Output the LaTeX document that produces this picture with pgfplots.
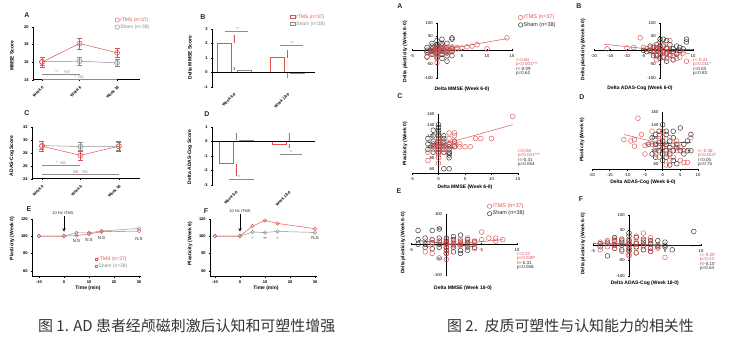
\documentclass[border=0pt]{standalone}
\usepackage{pgfplots}
\pgfplotsset{compat=1.18}
\usepackage{fontspec}
\setmainfont{Liberation Sans}
\newfontfamily\cjk{Noto Sans CJK SC}
\definecolor{rtms}{RGB}{224,82,82}
\definecolor{sham}{RGB}{140,140,140}
\definecolor{dk}{RGB}{40,40,40}
\newcommand\lab{\fontsize{5}{6}\selectfont\bfseries}
\newcommand\st{\fontsize{4.5}{5}\selectfont}
\pgfplotsset{
 base/.style={scale only axis, anchor=south west, clip=false, enlargelimits=false,
   /pgf/number format/assume math mode=true,
   tick align=outside, major tick length=1.6bp,
   every tick/.style={black, line width=0.4pt},
   legend cell align=left,
   legend style={anchor=north west, draw=none, fill=none, inner sep=0pt,
     font=\fontsize{5}{5.5}\selectfont, nodes={inner sep=0.6bp}, row sep=0.8bp,
     /tikz/every even column/.append style={column sep=1.5bp}},
 },
 f1/.style={base, axis x line=bottom, axis y line=left, axis line style={-, line width=0.45pt},
   tick label style={font=\fontsize{4}{4.5}\selectfont\bfseries}},
 f2/.style={base, axis lines=middle, axis line style={-, line width=0.45pt},
   tick label style={font=\fontsize{4.2}{4.5}\selectfont}},
 f2b/.style={base, axis x line=bottom, axis y line=middle, axis line style={-, line width=0.45pt},
   tick label style={font=\fontsize{4.2}{4.5}\selectfont}},
 R/.style={only marks, mark=o, mark size=2.4bp, rtms, mark options={line width=0.45pt}},
 K/.style={only marks, mark=o, mark size=2.4bp, dk, mark options={line width=0.45pt}},
 circleg/.style={legend image code/.code={\draw[##1, fill=white] (0bp,0bp) circle (2.2bp);}},
}
\begin{document}
\begin{tikzpicture}
\path[fill=white] (0,0) rectangle (734bp,341bp);

% ================= Figure 1 A =================
\begin{axis}[f1, at={(33bp,264bp)}, width=107bp, height=53bp,
  xmin=-0.24, xmax=2.61, ymin=14, ymax=20,
  xtick={0,1,2}, xticklabels={Week 0,Week 6,Week 18},
  xticklabel style={rotate=45, anchor=north east},
  ytick={14,16,18,20},
  ylabel={MMSE Score},
  every axis y label/.style={at={(rel axis cs:-0.196,0.45)}, anchor=center, rotate=90, font=\lab},
  circleg, legend style={at={(0.763,1.19)}}]
\addlegendimage{rtms, line width=0.45pt}
\addlegendentry{\textcolor{rtms}{rTMS (n=37)}}
\addlegendimage{sham, line width=0.45pt}
\addlegendentry{\textcolor{sham}{Sham (n=38)}}
\addplot[sham, line width=0.5pt, mark=o, mark size=2.5bp, mark options={fill=white}, forget plot,
  error bars/.cd, y dir=both, y explicit, error bar style={sham, line width=0.4pt}]
  coordinates {(0,16.05) +- (0,0.45) (1,16.1) +- (0,0.45) (2,15.9) +- (0,0.4)};
\addplot[rtms, line width=0.5pt, mark=o, mark size=2.5bp, mark options={fill=white}, forget plot,
  error bars/.cd, y dir=both, y explicit, error bar style={rtms, line width=0.4pt}]
  coordinates {(0,16.0) +- (0,0.55) (1,18.1) +- (0,0.6) (2,17.05) +- (0,0.55)};
\draw[sham, line width=0.4pt] (axis cs:0,14.68) -- (axis cs:1,14.68);
\draw[sham, line width=0.4pt] (axis cs:0,14.05) -- (axis cs:2,14.05);
\node[anchor=south, inner sep=0.3bp, font=\fontsize{4}{4}\selectfont, rtms] at (axis cs:0.4,14.68) {**};
\node[anchor=south, inner sep=0.3bp, font=\fontsize{4}{4}\selectfont, sham] at (axis cs:0.67,14.68) {NS};
\node[anchor=south, inner sep=0.3bp, font=\fontsize{4}{4}\selectfont, rtms] at (axis cs:0.89,14.05) {*};
\node[anchor=south, inner sep=0.3bp, font=\fontsize{4}{4}\selectfont, sham] at (axis cs:1.04,14.05) {NS};
\end{axis}

% ================= Figure 1 B =================
\begin{axis}[f1, at={(212bp,257bp)}, width=103bp, height=58bp,
  xmin=-0.41, xmax=1.51, ymin=-1, ymax=3,
  xtick={0,1}, xticklabels={Week 6-0,Week 18-0},
  x axis line style={draw=none}, xtick style={draw=none},
  xticklabel style={rotate=45, anchor=north east},
  ytick={-1,0,1,2,3},
  ylabel={Delta MMSE Score},
  every axis y label/.style={at={(rel axis cs:-0.214,0.5)}, anchor=center, rotate=90, font=\lab},
  legend image code/.code={\draw[#1, fill=white] (-2.5bp,-1.5bp) rectangle (2.5bp,1.5bp);},
  legend style={at={(0.757,1.26)}}]
\addlegendimage{rtms, line width=0.45pt}
\addlegendentry{\textcolor{rtms}{rTMS (n=37)}}
\addlegendimage{sham, line width=0.45pt}
\addlegendentry{\textcolor{sham}{Sham (n=38)}}
\addplot[ybar, bar width=14bp, bar shift=-10bp, draw=rtms, fill=white, line width=0.5pt, forget plot,
  error bars/.cd, y dir=plus, y explicit, error mark=none, error bar style={rtms, line width=0.4pt}]
  coordinates {(0,2.0) +- (0,0.6) (1,1.0) +- (0,0.5)};
\addplot[ybar, bar width=14bp, bar shift=10bp, draw=sham, fill=white, line width=0.5pt, forget plot,
  error bars/.cd, y dir=plus, y explicit, error mark=none, error bar style={sham, line width=0.4pt}]
  coordinates {(0,0.15) +- (0,0.2)};
\addplot[ybar, bar width=14bp, bar shift=10bp, draw=sham, fill=white, line width=0.5pt, forget plot,
  error bars/.cd, y dir=minus, y explicit, error mark=none, error bar style={sham, line width=0.4pt}]
  coordinates {(1,-0.05) +- (0,0.35)};
\draw[line width=0.45pt] (axis cs:-0.41,0) -- (axis cs:1.51,0);
\draw[sham, line width=0.4pt] (axis cs:-0.17,2.84) -- (axis cs:0.26,2.84);
\draw[sham, line width=0.4pt] (axis cs:0.86,1.88) -- (axis cs:1.29,1.88);
\node[anchor=south, inner sep=0.3bp, font=\fontsize{4}{4}\selectfont, rtms] at (axis cs:0.07,2.84) {**};
\node[anchor=south, inner sep=0.3bp, font=\fontsize{4}{4}\selectfont, rtms] at (axis cs:1.08,1.88) {**};
\end{axis}

% ================= Figure 1 C =================
\begin{axis}[f1, at={(32bp,165bp)}, width=108bp, height=52bp,
  xmin=-0.26, xmax=2.55, ymin=24, ymax=32,
  xtick={0,1,2}, xticklabels={Week 0,Week 6,Week 18},
  xticklabel style={rotate=45, anchor=north east},
  ytick={24,26,28,30,32},
  ylabel={ADAS-Cog Score},
  every axis y label/.style={at={(rel axis cs:-0.185,0.44)}, anchor=center, rotate=90, font=\lab}]
\addplot[sham, line width=0.5pt, mark=o, mark size=2.5bp, mark options={fill=white},
  error bars/.cd, y dir=both, y explicit, error bar style={sham, line width=0.4pt}]
  coordinates {(0,29.1) +- (0,0.6) (1,28.95) +- (0,0.6) (2,29.0) +- (0,0.6)};
\addplot[rtms, line width=0.5pt, mark=o, mark size=2.5bp, mark options={fill=white},
  error bars/.cd, y dir=both, y explicit, error bar style={rtms, line width=0.4pt}]
  coordinates {(0,29.0) +- (0,0.7) (1,27.6) +- (0,0.7) (2,29.0) +- (0,0.7)};
\draw[sham, line width=0.4pt] (axis cs:0,26.05) -- (axis cs:1,26.05);
\draw[sham, line width=0.4pt] (axis cs:0,24.77) -- (axis cs:2,24.77);
\node[anchor=south, inner sep=0.3bp, font=\fontsize{4}{4}\selectfont, rtms] at (axis cs:0.39,26.05) {*};
\node[anchor=south, inner sep=0.3bp, font=\fontsize{4}{4}\selectfont, sham] at (axis cs:0.55,26.05) {NS};
\node[anchor=south, inner sep=0.3bp, font=\fontsize{4}{4}\selectfont, rtms] at (axis cs:0.88,24.77) {NS};
\node[anchor=south, inner sep=0.3bp, font=\fontsize{4}{4}\selectfont, sham] at (axis cs:1.12,24.77) {NS};
\end{axis}

% ================= Figure 1 D =================
\begin{axis}[f1, at={(212bp,159bp)}, width=103bp, height=58bp,
  xmin=-0.45, xmax=1.49, ymin=-3, ymax=1,
  xtick={0,1}, xticklabels={Week 6-0,Week 18-0},
  x axis line style={draw=none}, xtick style={draw=none},
  xticklabel style={rotate=45, anchor=north east},
  ytick={-3,-2,-1,0,1},
  ylabel={Delta ADAS-Cog Score},
  every axis y label/.style={at={(rel axis cs:-0.214,0.48)}, anchor=center, rotate=90, font=\lab}]
\addplot[ybar, bar width=14bp, bar shift=-10bp, draw=rtms, fill=white, line width=0.5pt,
  error bars/.cd, y dir=minus, y explicit, error mark=none, error bar style={rtms, line width=0.4pt}]
  coordinates {(0,-1.55) +- (0,0.85) (1,-0.2) +- (0,0.3)};
\addplot[ybar, bar width=14bp, bar shift=10bp, draw=sham, fill=white, line width=0.5pt,
  error bars/.cd, y dir=plus, y explicit, error mark=none, error bar style={sham, line width=0.4pt}]
  coordinates {(0,0.05) +- (0,0.55) (1,0.0) +- (0,0.6)};
\draw[line width=0.45pt] (axis cs:-0.45,0) -- (axis cs:1.49,0);
\draw[sham, line width=0.4pt] (axis cs:-0.13,-2.6) -- (axis cs:0.34,-2.6);
\draw[sham, line width=0.4pt] (axis cs:0.83,-0.9) -- (axis cs:1.25,-0.9);
\node[anchor=south, inner sep=0.3bp, font=\fontsize{4}{4}\selectfont, rtms] at (axis cs:0.06,-2.6) {**};
\node[anchor=south, inner sep=0.3bp, font=\fontsize{4}{4}\selectfont, rtms] at (axis cs:1.04,-0.9) {**};
\end{axis}

% ================= Figure 1 E =================
\begin{axis}[f1, at={(32bp,67bp)}, width=109bp, height=58bp,
  xmin=-12.8, xmax=30.8, ymin=53.1, ymax=120,
  xtick={-10,0,10,20,30}, ytick={60,80,100,120},
  xlabel={Time (min)}, ylabel={Plasticity (Week 0)},
  every axis x label/.style={at={(rel axis cs:0.514,-0.19)}, anchor=center, font=\lab},
  every axis y label/.style={at={(rel axis cs:-0.183,0.66)}, anchor=center, rotate=90, font=\lab},
  legend image code/.code={\draw[#1, fill=white] (-1.3bp,-1.3bp) rectangle (1.3bp,1.3bp);},
  legend style={at={(0.575,0.36)}}]
\addlegendimage{rtms, line width=0.4pt}
\addlegendentry{\textcolor{rtms}{rTMS (n=37)}}
\addlegendimage{sham, line width=0.4pt}
\addlegendentry{\textcolor{sham}{Sham (n=38)}}
\addplot[sham, line width=0.45pt, mark=o, mark size=1.8bp, mark options={fill=white}, forget plot]
  coordinates {(-10,100) (0,100) (5,103.8) (10,103.8) (15,105.8) (30,108.8)};
\addplot[rtms, line width=0.45pt, mark=o, mark size=1.8bp, mark options={fill=white}, forget plot]
  coordinates {(-10,100) (0,100) (5,100.5) (10,102.5) (15,105) (30,105.8)};
\node[font=\fontsize{4.5}{5}\selectfont, dk] at (axis cs:5,94.6) {N.S};
\node[font=\fontsize{4.5}{5}\selectfont, dk] at (axis cs:10,95.8) {N.S};
\node[font=\fontsize{4.5}{5}\selectfont, dk] at (axis cs:15,98) {N.S};
\node[font=\fontsize{4.5}{5}\selectfont, dk] at (axis cs:30,97) {N.S};
\end{axis}

% ================= Figure 1 F =================
\begin{axis}[f1, at={(210bp,67bp)}, width=107bp, height=58bp,
  xmin=-12, xmax=30.8, ymin=53.1, ymax=120,
  xtick={-10,0,10,20,30}, ytick={60,80,100,120},
  xlabel={Time (min)}, ylabel={Plasticity (Week 6)},
  every axis x label/.style={at={(rel axis cs:0.523,-0.19)}, anchor=center, font=\lab},
  every axis y label/.style={at={(rel axis cs:-0.187,0.57)}, anchor=center, rotate=90, font=\lab}]
\addplot[sham, line width=0.45pt, mark=o, mark size=1.8bp, mark options={fill=white}]
  coordinates {(-10,100) (0,100) (5,104.6) (10,104.2) (15,105.3) (30,104.2)};
\addplot[rtms, line width=0.45pt, mark=o, mark size=1.8bp, mark options={fill=white}]
  coordinates {(-10,100) (0,100) (5,111.5) (10,118) (15,114.6) (30,108.5)};
\node[font=\fontsize{4.5}{5}\selectfont, dk] at (axis cs:5,96.5) {*};
\node[font=\fontsize{4.5}{5}\selectfont, dk] at (axis cs:10,96.5) {**};
\node[font=\fontsize{4.5}{5}\selectfont, dk] at (axis cs:15,96.5) {*};
\node[font=\fontsize{4.5}{5}\selectfont, dk] at (axis cs:30,97.5) {N.S};
\end{axis}

% ================= Figure 2 A =================
\begin{axis}[f2, at={(412bp,266bp)}, width=100bp, height=55bp,
  xmin=-5, xmax=15, ymin=-100, ymax=100,
  xtick={-5,5,10,15}, ytick={-100,-50,50,100},
  xlabel={Delta MMSE (Week 6-0)}, ylabel={Delta plasticity (Week 6-0)},
  every axis x label/.style={at={(rel axis cs:0.5,-0.2)}, anchor=center, font=\lab},
  every axis y label/.style={at={(rel axis cs:-0.07,0.47)}, anchor=center, rotate=90, font=\lab},
  circleg, legend style={at={(1.06,1.16)}, font=\fontsize{5.5}{6}\selectfont}]
\addlegendimage{rtms, line width=0.45pt}
\addlegendentry{\textcolor{rtms}{rTMS (n=37)}}
\addlegendimage{dk, line width=0.45pt}
\addlegendentry{\textcolor{dk}{Sham (n=38)}}
\addplot[K, forget plot] coordinates {(-2,0) (-2,10) (-2,-8) (-1,15) (-1,-5) (-1,5) (-1,25) (0,0) (0,10) (0,-10) (0,20) (0,-25) (0,35) (0,5) (1,-15) (1,5) (1,15) (1,-5) (1,40) (1,-30) (2,0) (2,10) (2,-10) (2,-40) (2,25) (3,5) (3,40) (3,-5) (3,-20) (-1,-15) (0,-5) (1,0) (2,-20) (3,45) (-2,-25) (0,15) (1,25) (-1,0)};
\addplot[R, forget plot] coordinates {(-2,-23) (-2,-5) (-1,-10) (-1,5) (-1,-2) (0,-45) (0,-30) (0,-20) (0,-10) (0,-5) (0,0) (0,5) (0,10) (0,-15) (1,-5) (1,0) (1,8) (1,-12) (1,3) (2,-8) (2,2) (2,10) (2,-3) (2,5) (3,0) (3,8) (3,-5) (3,12) (4,5) (4,10) (5,8) (6,12) (7,15) (8,20) (10,5) (14,45) (1,20)};
\addplot[rtms, line width=0.5pt, no marks, forget plot] coordinates {(-2,-8) (14,42)};
\addplot[dk, line width=0.5pt, no marks, forget plot] coordinates {(-2,2) (3,-1)};
\end{axis}

% ================= Figure 2 B =================
\begin{axis}[f2, at={(594bp,266bp)}, width=99bp, height=55bp,
  xmin=-20, xmax=10, ymin=-100, ymax=100,
  xtick={-20,-15,-10,-5,5,10}, ytick={-100,-50,50,100},
  xlabel={Delta ADAS-Cog (Week 6-0)}, ylabel={Delta plasticity (Week 6-0)},
  every axis x label/.style={at={(rel axis cs:0.465,-0.2)}, anchor=center, font=\lab},
  every axis y label/.style={at={(rel axis cs:-0.11,0.51)}, anchor=center, rotate=90, font=\lab}]
\addplot[K] coordinates {(-3,0) (-2,10) (-2,-5) (-1,20) (-1,0) (-1,-20) (0,30) (0,5) (0,-10) (0,40) (1,-5) (1,15) (1,-25) (2,5) (2,35) (2,-10) (3,0) (3,20) (3,-20) (4,5) (4,-5) (5,15) (5,-15) (6,0) (6,10) (8,40) (8,30) (-4,-5) (-3,15) (-5,0) (7,5) (0,-30) (1,40) (-2,-20) (4,-35) (2,-40) (-1,10) (0,15)};
\addplot[R] coordinates {(-16,5) (-10,8) (-8,10) (-5,10) (-4,5) (-3,8) (-3,-5) (-2,15) (-2,0) (-2,-10) (-1,5) (-1,20) (-1,-15) (0,10) (0,-5) (0,-20) (1,0) (1,-10) (1,20) (2,-5) (2,-30) (2,10) (3,-15) (3,0) (4,-20) (4,-35) (5,-10) (5,-30) (6,-5) (6,-25) (7,-10) (8,-40) (-6,45) (3,35) (-1,-35) (0,0) (2,-15)};
\addplot[rtms, line width=0.5pt, no marks] coordinates {(-17,22) (9,-12)};
\addplot[dk, line width=0.5pt, no marks] coordinates {(-5,2) (10,3)};
\end{axis}

% ================= Figure 2 C =================
\begin{axis}[f2b, at={(412bp,170bp)}, width=106bp, height=60bp,
  xmin=-5, xmax=15, ymin=51, ymax=160,
  xtick={-5,0,5,10,15}, ytick={60,80,100,120,140,160},
  xlabel={Delta MMSE (Week 6-0)}, ylabel={Plasticity (Week 0)},
  every axis x label/.style={at={(rel axis cs:0.5,-0.217)}, anchor=center, font=\lab},
  every axis y label/.style={at={(rel axis cs:-0.066,0.5)}, anchor=center, rotate=90, font=\lab}]
\addplot[K] coordinates {(-2,105) (-2,115) (-1,120) (-1,100) (-1,110) (-1,90) (0,140) (0,130) (0,120) (0,100) (0,95) (0,110) (0,105) (1,100) (1,105) (1,90) (1,115) (2,85) (2,90) (2,95) (2,80) (2,60) (1,60) (0,125) (-1,130) (1,120) (2,100) (3,100) (-2,95) (0,115) (1,110) (2,105) (-1,105) (0,90) (1,95) (3,110) (2,88) (0,135)};
\addplot[R] coordinates {(-2,90) (-2,75) (-1,100) (-1,110) (0,70) (0,80) (0,90) (0,100) (0,105) (0,115) (0,95) (0,85) (1,105) (1,95) (1,110) (1,90) (2,125) (2,100) (2,105) (2,95) (3,120) (3,125) (3,100) (3,110) (4,105) (4,100) (5,100) (6,100) (7,115) (8,115) (10,115) (14,155) (1,100) (0,110) (2,115) (-1,95) (3,105)};
\addplot[rtms, line width=0.5pt, no marks] coordinates {(-2,97) (14,140)};
\addplot[dk, line width=0.5pt, no marks] coordinates {(-2,108) (3,98)};
\end{axis}

% ================= Figure 2 D =================
\begin{axis}[f2b, at={(592bp,174bp)}, width=106bp, height=58bp,
  xmin=-20, xmax=10, ymin=70.8, ymax=160,
  xtick={-20,-15,-10,-5,0,5,10}, ytick={80,100,120,140,160},
  xlabel={Delta ADAS-Cog (Week 6-0)}, ylabel={Plasticity (Week 6)},
  every axis x label/.style={at={(rel axis cs:0.48,-0.224)}, anchor=center, font=\lab},
  every axis y label/.style={at={(rel axis cs:-0.094,0.51)}, anchor=center, rotate=90, font=\lab}]
\addplot[K] coordinates {(-4,110) (-3,120) (-2,110) (-2,125) (-1,130) (-1,100) (-1,112) (0,140) (0,95) (0,105) (0,115) (1,125) (1,110) (1,100) (1,130) (2,105) (2,115) (2,95) (3,100) (3,120) (3,85) (4,110) (4,105) (5,135) (5,100) (6,95) (6,110) (7,100) (8,125) (8,100) (-3,95) (-2,90) (0,85) (1,90) (2,78) (3,130) (4,80) (7,115)};
\addplot[R] coordinates {(-11,117) (-9,115) (-8,117) (-8,107) (-7,150) (-6,125) (-5,108) (-5,95) (-4,110) (-3,110) (-3,130) (-2,105) (-2,100) (-2,95) (-1,115) (-1,90) (-1,105) (0,130) (0,100) (0,110) (1,78) (1,95) (2,120) (2,100) (2,85) (3,110) (3,90) (4,115) (4,100) (5,105) (5,85) (6,82) (6,100) (7,82) (8,120) (-1,125) (0,120)};
\addplot[rtms, line width=0.5pt, no marks] coordinates {(-11,125) (8,100)};
\addplot[dk, line width=0.5pt, no marks] coordinates {(-5,110) (8,113)};
\end{axis}

% ================= Figure 2 E =================
\begin{axis}[f2, at={(411bp,69bp)}, width=106bp, height=61bp,
  xmin=-5, xmax=10, ymin=-100, ymax=100,
  xtick={-5,5,10}, ytick={-100,-50,50,100},
  xlabel={Delta MMSE (Week 18-0)}, ylabel={Delta plasticity (Week 6-0)},
  every axis x label/.style={at={(rel axis cs:0.49,-0.213)}, anchor=center, font=\lab},
  every axis y label/.style={at={(rel axis cs:-0.075,0.52)}, anchor=center, rotate=90, font=\lab},
  circleg, legend style={at={(0.717,1.18)}, font=\fontsize{5.5}{6}\selectfont}]
\addlegendimage{rtms, line width=0.45pt}
\addlegendentry{\textcolor{rtms}{rTMS (n=37)}}
\addlegendimage{dk, line width=0.45pt}
\addlegendentry{\textcolor{dk}{Sham (n=38)}}
\addplot[K, forget plot] coordinates {(-4,15) (-4,45) (-3,20) (-3,0) (-3,-10) (-2,15) (-2,45) (-2,5) (-1,50) (-1,20) (-1,-10) (-1,0) (0,10) (0,-10) (0,-20) (0,5) (0,20) (1,25) (1,-10) (1,0) (1,-25) (2,30) (2,10) (2,-20) (2,-30) (3,15) (3,-20) (3,-5) (4,10) (4,-10) (-2,-15) (0,-30) (1,15) (-1,10) (2,0) (0,0) (3,5) (-4,0)};
\addplot[R, forget plot] coordinates {(-3,10) (-3,-25) (-2,5) (-2,-30) (-1,-45) (-1,0) (-1,10) (0,-10) (0,-20) (0,5) (0,-30) (0,15) (0,-50) (1,0) (1,10) (1,-10) (1,5) (2,5) (2,-5) (2,15) (3,10) (3,0) (3,20) (4,10) (4,5) (5,15) (5,40) (6,20) (7,10) (7,20) (8,15) (-2,15) (0,0) (1,-5) (2,0) (3,-10) (4,-15)};
\addplot[rtms, line width=0.5pt, no marks, forget plot] coordinates {(-3,-8) (8,15)};
\addplot[dk, line width=0.5pt, no marks, forget plot] coordinates {(-4,12) (4,-8)};
\end{axis}

% ================= Figure 2 F =================
\begin{axis}[f2, at={(593bp,68bp)}, width=108bp, height=61bp,
  xmin=-5, xmax=10, ymin=-100, ymax=100,
  xtick={-5,5,10}, ytick={-100,-50,50,100},
  xlabel={Delta ADAS-Cog (Week 18-0)}, ylabel={Delta plasticity (Week 6-0)},
  every axis x label/.style={at={(rel axis cs:0.48,-0.115)}, anchor=center, font=\lab},
  every axis y label/.style={at={(rel axis cs:-0.093,0.52)}, anchor=center, rotate=90, font=\lab}]
\addplot[K] coordinates {(-4,5) (-3,10) (-3,-35) (-2,25) (-2,0) (-2,-10) (-1,20) (-1,0) (-1,10) (0,40) (0,30) (0,5) (0,-10) (0,-20) (1,25) (1,5) (1,-5) (2,20) (2,0) (2,-15) (3,-10) (3,5) (3,-20) (4,15) (4,-5) (5,10) (6,-15) (9,45) (5,-5) (-4,-5) (-1,-15) (0,15) (1,-25) (2,10) (3,15) (4,0) (-2,15) (5,0)};
\addplot[R] coordinates {(-4,10) (-4,-15) (-3,5) (-3,15) (-2,0) (-2,10) (-2,-10) (-1,15) (-1,0) (-1,-20) (0,10) (0,-5) (0,-15) (0,-30) (0,20) (1,-10) (1,5) (1,-25) (1,30) (2,15) (2,-15) (2,40) (2,-5) (3,10) (3,-20) (3,25) (4,0) (4,-10) (5,-40) (-1,5) (0,0) (1,10) (-3,-5) (2,0) (3,-10) (0,-35) (-2,20)};
\addplot[rtms, line width=0.5pt, no marks] coordinates {(-4,8) (5,-2)};
\addplot[dk, line width=0.5pt, no marks] coordinates {(-5,5) (9,-2)};
\end{axis}

% ================= text in pixel coordinates =================
\begin{scope}[x=1bp, y=-1bp, yshift=341bp]
\foreach \l/\x/\y in {A/27/12, B/203/14, C/27/110, D/207/111, E/29/206, F/206/208,
                      A/400/3, B/579/3, C/400/93, D/582/94, E/399/188, F/581/196}
  \node[font=\fontsize{7}{7}\selectfont\bfseries, dk] at (\x,\y) {\l};
% arrows 10 Hz rTMS
\node[font=\fontsize{4}{4.5}\selectfont, dk] at (63,210) {10 Hz rTMS};
\draw[-stealth, line width=0.6pt] (64,213.5) -- (64,229);
\node[font=\fontsize{4}{4.5}\selectfont, dk] at (240,208) {10 Hz rTMS};
\draw[-stealth, line width=0.6pt] (240,211.5) -- (240,229);
% statistics
\foreach \x/\y/\a/\b/\c/\d in {516/57/r=0.60/p<0.001***/r=-0.09/p=0.62,
                               693/57/r=-0.41/p=0.011*/r=0.03/p=0.83,
                               518/148/r=0.58/p<0.001***/r=-0.31/p=0.054,
                               698/148/r=-0.36/p=0.013*/r=0.05/p=0.75,
                               517/251/r=0.32/p=0.049*/r=-0.31/p=0.058,
                               700/252/r=-0.20/p=0.23/r=-0.10/p=0.54}{
  \node[anchor=west, inner sep=0pt, font=\st, rtms] at (\x,\y) {\a};
  \node[anchor=west, inner sep=0pt, font=\st, rtms] at (\x,\y+4.6) {\b};
  \node[anchor=west, inner sep=0pt, font=\st, dk] at (\x,\y+9.2) {\c};
  \node[anchor=west, inner sep=0pt, font=\st, dk] at (\x,\y+13.8) {\d};
}
% captions
\node[anchor=west, inner sep=0pt, font=\cjk\fontsize{15}{16}\selectfont, text={rgb,255:red,51;green,51;blue,51}] at (38,323) {图 1. AD 患者经颅磁刺激后认知和可塑性增强};
\node[anchor=west, inner sep=0pt, font=\cjk\fontsize{15}{16}\selectfont, text={rgb,255:red,51;green,51;blue,51}] at (447,323) {图 2.\ \ 皮质可塑性与认知能力的相关性};
\end{scope}
\path[use as bounding box] (0,0) rectangle (734bp,341bp);
\end{tikzpicture}
\end{document}
